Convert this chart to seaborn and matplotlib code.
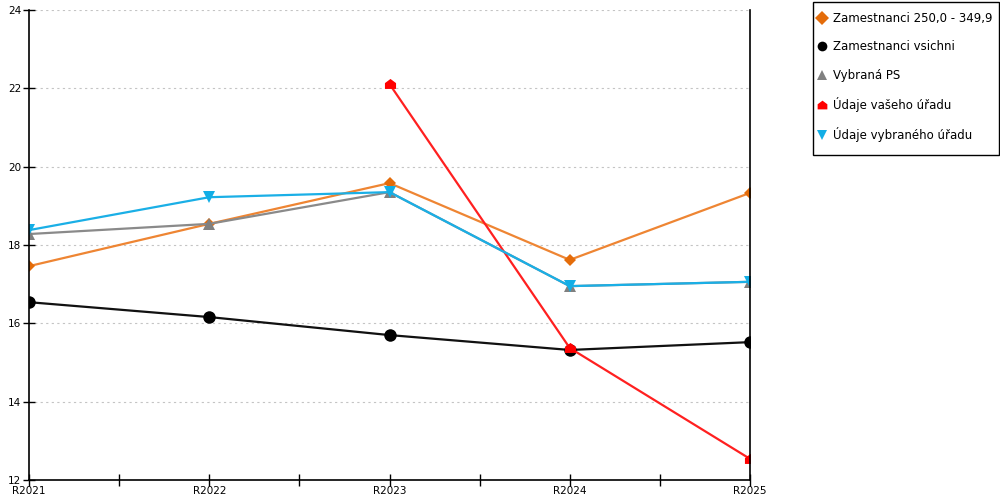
import matplotlib
matplotlib.use("Agg")
import matplotlib.pyplot as plt
from matplotlib.path import Path
from matplotlib.patches import Rectangle
import seaborn as sns
import pandas as pd
import numpy as np

years = ["R2021", "R2022", "R2023", "R2024", "R2025"]
s_orange = [17.46, 18.54, 19.58, 17.62, 19.33]
s_black = [16.54, 16.16, 15.70, 15.32, 15.52]
s_gray = [18.28, 18.54, 19.35, 16.95, 17.06]
s_red = [np.nan, np.nan, 22.11, 15.37, 12.54]
s_blue = [18.38, 19.22, 19.35, 16.95, 17.06]

names = ["Zamestnanci 250,0 - 349,9", "Zamestnanci vsichni", "Vybraná PS",
         "Údaje vašeho úřadu", "Údaje vybraného úřadu"]
series = [s_orange, s_black, s_gray, s_red, s_blue]
colors = ["#E46C0A", "#000000", "#808080", "#FF0000", "#12AEE6"]
linecolors = ["#EE8533", "#111111", "#8A8A8A", "#FF2020", "#1AAFE6"]
house = Path([(-1, -0.8), (1, -0.8), (1, 0.25), (0, 1), (-1, 0.25), (-1, -0.8)],
             [Path.MOVETO, Path.LINETO, Path.LINETO, Path.LINETO, Path.LINETO, Path.CLOSEPOLY])
markers = ["D", "o", "^", house, "v"]
msizes = [6, 9, 9, 8, 9]

sns.set_theme(style="white")
plt.rcParams['font.family'] = ['DejaVu Sans']

fig = plt.figure(figsize=(10, 5), dpi=100)
ax = fig.add_axes([0.029, 0.04, 0.721, 0.94])

xpos = np.arange(len(years))
for name, vals, c, lc, m, ms in zip(names, series, colors, linecolors, markers, msizes):
    df = pd.DataFrame({"x": xpos, "y": vals}).dropna()
    sns.lineplot(data=df, x="x", y="y", ax=ax, color=lc, linewidth=1.6,
                 marker=m, markersize=ms, markerfacecolor=c, markeredgecolor=c,
                 markeredgewidth=0, label=name, legend=False)

ax.set_xlim(0, 4)
ax.set_ylim(12, 24)
ax.set_xticks(xpos)
ax.set_xticklabels(years)
ax.set_xticks(xpos[:-1] + 0.5, minor=True)
ax.set_yticks(np.arange(12, 25, 2))
ax.set_xlabel("")
ax.set_ylabel("")

ax.yaxis.grid(True, color="#C4C4C4", linestyle=(0, (2, 3)), linewidth=0.8)
ax.xaxis.grid(False)
ax.set_axisbelow(True)

ax.spines["top"].set_visible(False)
for side in ["left", "bottom", "right"]:
    ax.spines[side].set_visible(True)
    ax.spines[side].set_color("black")
    ax.spines[side].set_linewidth(1.2)

ax.tick_params(axis="x", which="both", direction="inout", length=9, width=1,
               color="black", labelsize=7.5, pad=0, bottom=True)
ax.tick_params(axis="y", which="major", direction="inout", length=9, width=1,
               color="black", labelsize=7.5, pad=1, left=True, right=False)
for lab in ax.get_xticklabels() + ax.get_yticklabels():
    lab.set_color("black")

handles, labels = ax.get_legend_handles_labels()
leg = fig.legend(handles, labels, loc="upper left", bbox_to_anchor=(0.818, 0.976),
                 frameon=False, fontsize=8.5,
                 handlelength=0.7, handletextpad=0.55, labelspacing=1.3,
                 borderpad=0, borderaxespad=0)
for lh in leg.get_lines():
    lh.set_linestyle("none")
    lh.set_markersize(7)
for t in leg.get_texts():
    t.set_color("black")

fig.patches.append(Rectangle((0.813, 0.69), 0.186, 0.306, transform=fig.transFigure,
                             fill=False, edgecolor="black", linewidth=1.0, zorder=3))

fig.savefig("out.png", dpi=100)
